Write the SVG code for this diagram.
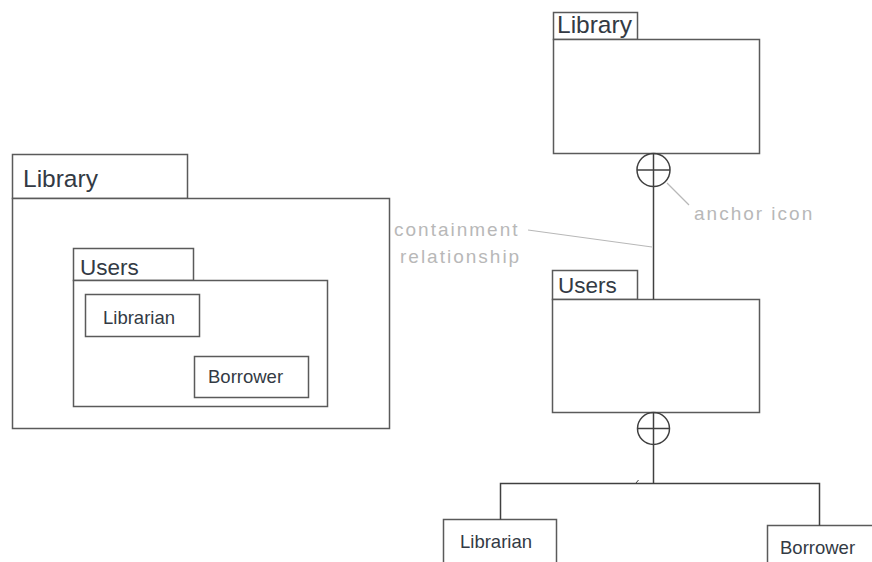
<svg xmlns="http://www.w3.org/2000/svg" width="872" height="562" viewBox="0 0 872 562">
<style>
.box{fill:#fff;stroke:#5a5a5a;stroke-width:1.5}
.t{font-family:"Liberation Sans",Arial,sans-serif;fill:#333a44}
.lib{font-size:24.5px}
.usr{font-size:22.5px}
.small{font-size:18.5px}
.conn{fill:none;stroke:#404040;stroke-width:1.5}
.note{font-family:"Liberation Sans",Arial,sans-serif;font-size:19px;fill:#b8b8b8;letter-spacing:2px}
.noteline{stroke:#b8b8b8;stroke-width:1.2;fill:none}
</style>
<rect width="872" height="562" fill="#fff"/>
<!-- Left nested diagram -->
<g id="left-library">
<rect class="box" x="12.5" y="154.5" width="175" height="44"/>
<rect class="box" x="12.5" y="198.5" width="377" height="230"/>
<text class="t lib" x="23" y="187">Library</text>
</g>
<g id="left-users">
<rect class="box" x="73.5" y="248.5" width="120" height="32"/>
<rect class="box" x="73.5" y="280.5" width="254" height="126"/>
<text class="t usr" x="80" y="275">Users</text>
</g>
<g id="left-librarian">
<rect class="box" x="85.5" y="294.5" width="114" height="42"/>
<text class="t small" x="103" y="324">Librarian</text>
</g>
<g id="left-borrower">
<rect class="box" x="194.5" y="356.5" width="114" height="41"/>
<text class="t small" x="208" y="383">Borrower</text>
</g>
<!-- Right tree diagram -->
<g id="right-library">
<rect class="box" x="553.5" y="12.5" width="84" height="27"/>
<rect class="box" x="553.5" y="39.5" width="206" height="114"/>
<text class="t lib" x="557" y="33">Library</text>
</g>
<g id="right-users">
<rect class="box" x="552.5" y="270.5" width="85" height="29"/>
<rect class="box" x="552.5" y="299.5" width="207" height="113"/>
<text class="t usr" x="558" y="293">Users</text>
</g>
<g id="right-librarian">
<rect class="box" x="443.5" y="519.5" width="113" height="50"/>
<text class="t small" x="460" y="548">Librarian</text>
</g>
<g id="right-borrower">
<rect class="box" x="767.5" y="525.5" width="120" height="50"/>
<text class="t small" x="780" y="554">Borrower</text>
</g>
<g id="connectors">
<circle class="conn" cx="653.5" cy="170" r="16.5"/>
<line class="conn" x1="637" y1="170" x2="670" y2="170"/>
<line class="conn" x1="653.5" y1="153.5" x2="653.5" y2="299.5"/>
<circle class="conn" cx="653.5" cy="428.5" r="16"/>
<line class="conn" x1="637.5" y1="428.5" x2="669.5" y2="428.5"/>
<polyline class="conn" points="653.5,412.5 653.5,483.5"/>
<polyline class="conn" points="500.5,519.5 500.5,483.5 819.5,483.5 819.5,525.5"/>
<line x1="636" y1="483" x2="638.5" y2="480" stroke="#404040" stroke-width="1"/>
</g>
<g id="annotations">
<text class="note" x="394" y="236">containment</text>
<text class="note" x="400" y="263">relationship</text>
<line class="noteline" x1="528" y1="230" x2="652" y2="247"/>
<text class="note" x="694" y="220">anchor icon</text>
<line class="noteline" x1="667" y1="183" x2="689" y2="205"/>
</g>
</svg>
